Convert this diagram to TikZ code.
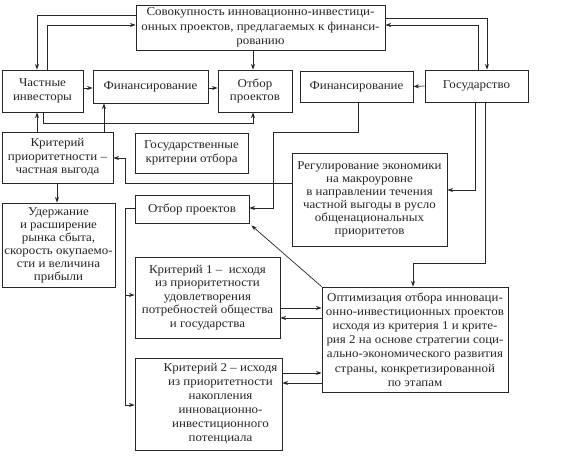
\documentclass[tikz,border=0pt]{standalone}
\usepackage{fontspec}
\setmainfont{Liberation Serif}[FakeStretch=1.08]
\usetikzlibrary{arrows.meta}
\definecolor{ink}{HTML}{262626}
\begin{document}
\begin{tikzpicture}[x=1pt,y=-1pt,
  box/.style={draw=ink,line width=0.9pt,inner sep=0pt,align=center,text=ink,
    font=\fontsize{12}{13.5}\selectfont},
  txt/.style={inner sep=0pt,align=center,text=ink},
  arr/.style={draw=ink,line width=0.7pt,-{Stealth[length=5.5pt,width=4pt]}}]
\useasboundingbox[fill=white] (0,0) rectangle (567,460);

\node[box,minimum width=249pt,minimum height=45pt,font=\fontsize{12}{14.5}\selectfont] (top) at (260.5,27.5)
  {Совокупность инновационно-инвестици-\\онных проектов, предлагаемых к финанси-\\рованию};
\node[box,minimum width=81pt,minimum height=42pt] (chast) at (42.5,91) {Частные\\инвесторы};
\node[box,minimum width=115pt,minimum height=33pt] (fin1) at (150.5,86.5) {Финансирование};
\node[box,minimum width=74pt,minimum height=42pt] (otb1) at (255,91) {Отбор\\проектов};
\node[box,minimum width=113pt,minimum height=31pt] (fin2) at (356.5,86.5) {Финансирование};
\node[box,minimum width=103pt,minimum height=32pt] (gos) at (476.5,86) {Государство};
\node[box,minimum width=111pt,minimum height=51pt] (krit) at (57.5,157.5) {Критерий\\приоритетности –\\частная выгода};
\node[box,minimum width=113pt,minimum height=40pt] (gkrit) at (191.5,153) {Государственные\\критерии отбора};
\node[box,minimum width=155pt,minimum height=93pt,font=\fontsize{12}{13}\selectfont] (reg) at (369.5,199.5)
  {Регулирование экономики\\на макроуровне\\в направлении течения\\частной выгоды в русло\\общенациональных\\приоритетов};
\node[box,minimum width=114pt,minimum height=28pt] (otb2) at (192,209) {Отбор проектов};
\node[box,minimum width=113pt,minimum height=84pt,font=\fontsize{12}{13}\selectfont] (uder) at (58.5,245)
  {Удержание\\и расширение\\рынка сбыта,\\скорость окупаемо-\\сти и величина\\прибыли};
\node[box,minimum width=145pt,minimum height=81pt] (kr1) at (207.5,297.5)
  {Критерий 1 –\ \ исходя\\из приоритетности\\удовлетворения\\потребностей общества\\и государства};
\node[box,minimum width=147pt,minimum height=92pt] (kr2) at (208.5,404) {};
\node[txt,font=\fontsize{12}{14}\selectfont] (kr2t) at ([xshift=12pt]kr2.center)
  {Критерий 2 – исходя\\из приоритетности\\накопления\\инновационно-\\инвестиционного\\потенциала};
\node[box,minimum width=186pt,minimum height=105pt,font=\fontsize{12}{14.2}\selectfont] (opt) at (415,339.5)
  {Оптимизация отбора инноваци-\\онно-инвестиционных проектов\\исходя из критерия 1 и крите-\\рия 2 на основе стратегии соци-\\ально-экономического развития\\страны, конкретизированной\\по этапам};

% connectors
\draw[arr] (top.west |- 0,15) -| (chast.north -| 37,0);
\draw[arr] (chast.north -| 47,0) |- (top.west |- 0,25);
\draw[arr] (top.south -| 253,0) -- (otb1.north -| 253,0);
\draw[arr] (chast.east |- 0,88) -- (fin1.west |- 0,88);
\draw[arr] (fin1.east |- 0,88) -- (otb1.west |- 0,88);
\draw[arr] (gos.west) -- (fin2.east);
\draw[arr] (top.east |- 0,18) -| (gos.north -| 487,0);
\draw[arr] (gos.north -| 478,0) |- (top.east |- 0,25);
\draw[arr] (chast.south -| 43,0) -- (43,123) -| (otb1.south -| 253,0);
\draw[arr] (krit.north -| 37,0) -- (chast.south -| 37,0);
\draw[arr] (krit.north -| 104,0) -- (fin1.south -| 104,0);
\draw[arr] (krit.south -| 57,0) -- (uder.north -| 57,0);
\draw[arr] (reg.west |- 0,183) -- (125,183) |- (krit.east |- 0,158);
\draw[arr] (fin2.south -| 358,0) |- (273,132) |- (otb2.east |- 0,208);
\draw[arr] (gos.south -| 475,0) |- (reg.east |- 0,190);
\draw[arr] (gos.south -| 485,0) |- (413,263) -- (opt.north -| 413,0);
\draw[arr] (opt.north west) -- ([shift={(2,2)}]otb2.south east);
\draw[arr] (otb2.west |- 0,208) -- (125,208) |- (kr2.west |- 0,405);
\draw[arr] (125,295) -- (kr1.west |- 0,295);
\draw[arr] (kr1.east |- 0,308) -- (opt.west |- 0,308);
\draw[arr] (opt.west |- 0,318) -- (kr1.east |- 0,318);
\draw[arr] (kr2.east |- 0,373) -- (opt.west |- 0,373);
\draw[arr] (opt.west |- 0,383) -- (kr2.east |- 0,383);
\end{tikzpicture}
\end{document}
